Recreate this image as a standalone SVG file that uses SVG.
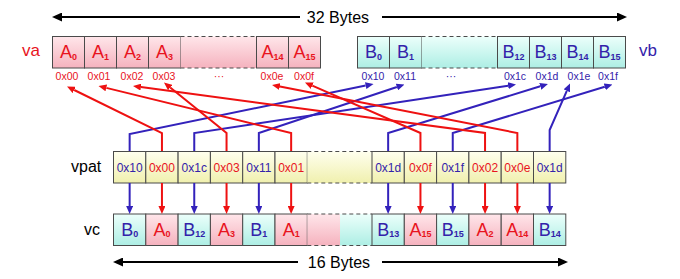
<svg xmlns="http://www.w3.org/2000/svg" width="680" height="279" viewBox="0 0 680 279">
<defs>
<linearGradient id="gPink" x1="0" y1="0" x2="0" y2="1"><stop offset="0" stop-color="#FFE6EA"/><stop offset="1" stop-color="#F5B2BE"/></linearGradient>
<linearGradient id="gCyan" x1="0" y1="0" x2="0" y2="1"><stop offset="0" stop-color="#ECFFFB"/><stop offset="1" stop-color="#ADEEE4"/></linearGradient>
<linearGradient id="gYel" x1="0" y1="0" x2="0" y2="1"><stop offset="0" stop-color="#FFFFEE"/><stop offset="1" stop-color="#F0F0AE"/></linearGradient>
<marker id="mR" markerUnits="userSpaceOnUse" markerWidth="8" markerHeight="7" refX="0" refY="3.5" orient="auto"><path d="M0,0 L8,3.5 L0,7 z" fill="#EE1111"/></marker>
<marker id="mB" markerUnits="userSpaceOnUse" markerWidth="8" markerHeight="7" refX="0" refY="3.5" orient="auto"><path d="M0,0 L8,3.5 L0,7 z" fill="#3322BB"/></marker>
<marker id="mK" markerUnits="userSpaceOnUse" markerWidth="10" markerHeight="9" refX="0" refY="4.5" orient="auto"><path d="M0,0 L10,4.5 L0,9 z" fill="#000"/></marker>
</defs>
<style>
text{font-family:"Liberation Sans",Arial,sans-serif}
.cell{stroke:#4A4A4A;stroke-width:1}
.pk{fill:url(#gPink)} .cy{fill:url(#gCyan)} .ye{fill:url(#gYel)}
.dash{stroke:#4A4A4A;stroke-width:1;stroke-dasharray:4 3;fill:none}
.big{font-size:18px;text-anchor:middle}
.sub{font-size:9px;font-weight:bold}
.adr{font-size:10.5px;text-anchor:middle}
.pat{font-size:12px;text-anchor:middle}
.red{fill:#E8141E} .blu{fill:#3322AA}
.lbl{font-size:17px}
.blk{font-size:16px}
.cr{stroke:#EE1111;stroke-width:2;fill:none;marker-end:url(#mR)}
.cb{stroke:#3322BB;stroke-width:2;fill:none;marker-end:url(#mB)}
.ck{stroke:#000;stroke-width:2;fill:none;marker-end:url(#mK)}
</style>
<rect width="680" height="279" fill="#fff"/>

<g id="bytes32">
<line class="ck" x1="300" y1="17" x2="62" y2="17"/>
<line class="ck" x1="382" y1="17" x2="617" y2="17"/>
<text x="338" y="23" font-size="16" text-anchor="middle">32 Bytes</text>
</g>

<g id="va">
<text class="lbl red" x="22" y="56">va</text>
<g id="va-A0"><rect class="cell pk" x="52.5" y="36.5" width="32" height="31.5"/><text class="big red" x="68.5" y="58">A<tspan class="sub" dy="1.5">0</tspan></text><text class="adr red" x="67" y="80">0x00</text></g>
<g id="va-A1"><rect class="cell pk" x="84.5" y="36.5" width="32" height="31.5"/><text class="big red" x="100.5" y="58">A<tspan class="sub" dy="1.5">1</tspan></text><text class="adr red" x="99" y="80">0x01</text></g>
<g id="va-A2"><rect class="cell pk" x="116.5" y="36.5" width="32" height="31.5"/><text class="big red" x="132.5" y="58">A<tspan class="sub" dy="1.5">2</tspan></text><text class="adr red" x="132" y="80">0x02</text></g>
<g id="va-A3"><rect class="cell pk" x="148.5" y="36.5" width="32" height="31.5"/><text class="big red" x="164.5" y="58">A<tspan class="sub" dy="1.5">3</tspan></text><text class="adr red" x="164" y="80">0x03</text></g>
<g id="va-gap"><rect class="pk" x="180.5" y="36.5" width="76" height="31.5"/><line class="dash" x1="180.5" y1="36.5" x2="256.5" y2="36.5"/><line class="dash" x1="180.5" y1="68" x2="256.5" y2="68"/><text class="adr red" x="219" y="80">···</text></g>
<g id="va-A14"><rect class="cell pk" x="256.5" y="36.5" width="32" height="31.5"/><text class="big red" x="272.5" y="58">A<tspan class="sub" dy="1.5">14</tspan></text><text class="adr red" x="272" y="80">0x0e</text></g>
<g id="va-A15"><rect class="cell pk" x="288.5" y="36.5" width="32" height="31.5"/><text class="big red" x="304.5" y="58">A<tspan class="sub" dy="1.5">15</tspan></text><text class="adr red" x="304" y="80">0x0f</text></g>
</g>

<g id="vb">
<text class="lbl blu" x="639" y="56">vb</text>
<g id="vb-B0"><rect class="cell cy" x="357.5" y="36.5" width="32" height="31.5"/><text class="big blu" x="373.5" y="58">B<tspan class="sub" dy="1.5">0</tspan></text><text class="adr blu" x="373" y="80">0x10</text></g>
<g id="vb-B1"><rect class="cell cy" x="389.5" y="36.5" width="32" height="31.5"/><text class="big blu" x="405.5" y="58">B<tspan class="sub" dy="1.5">1</tspan></text><text class="adr blu" x="405" y="80">0x11</text></g>
<g id="vb-gap"><rect class="cy" x="421.5" y="36.5" width="76" height="31.5"/><line class="dash" x1="421.5" y1="36.5" x2="497.5" y2="36.5"/><line class="dash" x1="421.5" y1="68" x2="497.5" y2="68"/><text class="adr blu" x="451" y="80">···</text></g>
<g id="vb-B12"><rect class="cell cy" x="497.5" y="36.5" width="32" height="31.5"/><text class="big blu" x="513.5" y="58">B<tspan class="sub" dy="1.5">12</tspan></text><text class="adr blu" x="515" y="80">0x1c</text></g>
<g id="vb-B13"><rect class="cell cy" x="529.5" y="36.5" width="32" height="31.5"/><text class="big blu" x="545.5" y="58">B<tspan class="sub" dy="1.5">13</tspan></text><text class="adr blu" x="547" y="80">0x1d</text></g>
<g id="vb-B14"><rect class="cell cy" x="561.5" y="36.5" width="32" height="31.5"/><text class="big blu" x="577.5" y="58">B<tspan class="sub" dy="1.5">14</tspan></text><text class="adr blu" x="579" y="80">0x1e</text></g>
<g id="vb-B15"><rect class="cell cy" x="593.5" y="36.5" width="32" height="31.5"/><text class="big blu" x="609.5" y="58">B<tspan class="sub" dy="1.5">15</tspan></text><text class="adr blu" x="608" y="80">0x1f</text></g>
</g>

<g id="vpat">
<text class="blk" x="71" y="172">vpat</text>
<g id="vpat-0"><rect class="cell ye" x="113.5" y="151.5" width="32.3" height="31.5"/><text class="pat blu" x="129.65" y="171.5">0x10</text></g>
<g id="vpat-1"><rect class="cell ye" x="145.8" y="151.5" width="32.3" height="31.5"/><text class="pat red" x="161.95" y="171.5">0x00</text></g>
<g id="vpat-2"><rect class="cell ye" x="178.1" y="151.5" width="32.3" height="31.5"/><text class="pat blu" x="194.25" y="171.5">0x1c</text></g>
<g id="vpat-3"><rect class="cell ye" x="210.4" y="151.5" width="32.3" height="31.5"/><text class="pat red" x="226.55" y="171.5">0x03</text></g>
<g id="vpat-4"><rect class="cell ye" x="242.7" y="151.5" width="32.3" height="31.5"/><text class="pat blu" x="258.85" y="171.5">0x11</text></g>
<g id="vpat-5"><rect class="cell ye" x="275" y="151.5" width="32.3" height="31.5"/><text class="pat red" x="291.15" y="171.5">0x01</text></g>
<g id="vpat-gap"><rect class="ye" x="307.3" y="151.5" width="64.7" height="31.5"/><line class="dash" x1="307.3" y1="151.5" x2="372" y2="151.5"/><line class="dash" x1="307.3" y1="183" x2="372" y2="183"/></g>
<g id="vpat-6"><rect class="cell ye" x="372" y="151.5" width="32.3" height="31.5"/><text class="pat blu" x="388.15" y="171.5">0x1d</text></g>
<g id="vpat-7"><rect class="cell ye" x="404.3" y="151.5" width="32.3" height="31.5"/><text class="pat red" x="420.45" y="171.5">0x0f</text></g>
<g id="vpat-8"><rect class="cell ye" x="436.6" y="151.5" width="32.3" height="31.5"/><text class="pat blu" x="452.75" y="171.5">0x1f</text></g>
<g id="vpat-9"><rect class="cell ye" x="468.9" y="151.5" width="32.3" height="31.5"/><text class="pat red" x="485.05" y="171.5">0x02</text></g>
<g id="vpat-10"><rect class="cell ye" x="501.2" y="151.5" width="32.3" height="31.5"/><text class="pat red" x="517.35" y="171.5">0x0e</text></g>
<g id="vpat-11"><rect class="cell ye" x="533.5" y="151.5" width="32.3" height="31.5"/><text class="pat blu" x="549.65" y="171.5">0x1d</text></g>
</g>

<g id="vc">
<text class="blk" x="84" y="235">vc</text>
<g id="vc-0"><rect class="cell cy" x="113.5" y="214" width="32.3" height="31.5"/><text class="big blu" x="129.65" y="235.5">B<tspan class="sub" dy="1.5">0</tspan></text></g>
<g id="vc-1"><rect class="cell pk" x="145.8" y="214" width="32.3" height="31.5"/><text class="big red" x="161.95" y="235.5">A<tspan class="sub" dy="1.5">0</tspan></text></g>
<g id="vc-2"><rect class="cell cy" x="178.1" y="214" width="32.3" height="31.5"/><text class="big blu" x="194.25" y="235.5">B<tspan class="sub" dy="1.5">12</tspan></text></g>
<g id="vc-3"><rect class="cell pk" x="210.4" y="214" width="32.3" height="31.5"/><text class="big red" x="226.55" y="235.5">A<tspan class="sub" dy="1.5">3</tspan></text></g>
<g id="vc-4"><rect class="cell cy" x="242.7" y="214" width="32.3" height="31.5"/><text class="big blu" x="258.85" y="235.5">B<tspan class="sub" dy="1.5">1</tspan></text></g>
<g id="vc-5"><rect class="cell pk" x="275" y="214" width="32.3" height="31.5"/><text class="big red" x="291.15" y="235.5">A<tspan class="sub" dy="1.5">1</tspan></text></g>
<g id="vc-gap"><rect class="pk" x="307.3" y="214" width="32.7" height="31.5"/><rect class="cy" x="340" y="214" width="32" height="31.5"/><line class="dash" x1="307.3" y1="214" x2="372" y2="214"/><line class="dash" x1="307.3" y1="245.5" x2="372" y2="245.5"/></g>
<g id="vc-6"><rect class="cell cy" x="372" y="214" width="32.3" height="31.5"/><text class="big blu" x="388.15" y="235.5">B<tspan class="sub" dy="1.5">13</tspan></text></g>
<g id="vc-7"><rect class="cell pk" x="404.3" y="214" width="32.3" height="31.5"/><text class="big red" x="420.45" y="235.5">A<tspan class="sub" dy="1.5">15</tspan></text></g>
<g id="vc-8"><rect class="cell cy" x="436.6" y="214" width="32.3" height="31.5"/><text class="big blu" x="452.75" y="235.5">B<tspan class="sub" dy="1.5">15</tspan></text></g>
<g id="vc-9"><rect class="cell pk" x="468.9" y="214" width="32.3" height="31.5"/><text class="big red" x="485.05" y="235.5">A<tspan class="sub" dy="1.5">2</tspan></text></g>
<g id="vc-10"><rect class="cell pk" x="501.2" y="214" width="32.3" height="31.5"/><text class="big red" x="517.35" y="235.5">A<tspan class="sub" dy="1.5">14</tspan></text></g>
<g id="vc-11"><rect class="cell cy" x="533.5" y="214" width="32.3" height="31.5"/><text class="big blu" x="549.65" y="235.5">B<tspan class="sub" dy="1.5">14</tspan></text></g>
</g>

<g id="bytes16">
<line class="ck" x1="298" y1="262" x2="123" y2="262"/>
<line class="ck" x1="382" y1="262" x2="558" y2="262"/>
<text x="339" y="268" font-size="16" text-anchor="middle">16 Bytes</text>
</g>

<g id="connectors">
<polyline class="cb" points="129.65,151 129.65,134 365.7,85.6"/>
<polyline class="cr" points="161.95,151 161.95,133 74.2,90"/>
<polyline class="cb" points="194.25,151 194.25,133 508.1,85.7"/>
<polyline class="cr" points="226.55,151 226.55,133 170.2,87.5"/>
<polyline class="cb" points="258.85,151 258.85,133 396.9,87"/>
<polyline class="cr" points="291.15,151 291.15,133 106.3,87.9"/>
<polyline class="cb" points="388.15,151 388.15,133 540.3,86.3"/>
<polyline class="cr" points="420.45,151 420.45,133 312.3,85.7"/>
<polyline class="cb" points="452.75,151 452.75,133 604.8,86.8"/>
<polyline class="cr" points="485.05,151 485.05,133 140.9,87.1"/>
<polyline class="cr" points="517.35,151 517.35,133 279.9,86.5"/>
<polyline class="cb" points="549.65,151 549.65,130 566.8,90.8"/>
<line class="cb" x1="129.65" y1="183" x2="129.65" y2="206"/>
<line class="cr" x1="161.95" y1="183" x2="161.95" y2="206"/>
<line class="cb" x1="194.25" y1="183" x2="194.25" y2="206"/>
<line class="cr" x1="226.55" y1="183" x2="226.55" y2="206"/>
<line class="cb" x1="258.85" y1="183" x2="258.85" y2="206"/>
<line class="cr" x1="291.15" y1="183" x2="291.15" y2="206"/>
<line class="cb" x1="388.15" y1="183" x2="388.15" y2="206"/>
<line class="cr" x1="420.45" y1="183" x2="420.45" y2="206"/>
<line class="cb" x1="452.75" y1="183" x2="452.75" y2="206"/>
<line class="cr" x1="485.05" y1="183" x2="485.05" y2="206"/>
<line class="cr" x1="517.35" y1="183" x2="517.35" y2="206"/>
<line class="cb" x1="549.65" y1="183" x2="549.65" y2="206"/>
</g>
</svg>
